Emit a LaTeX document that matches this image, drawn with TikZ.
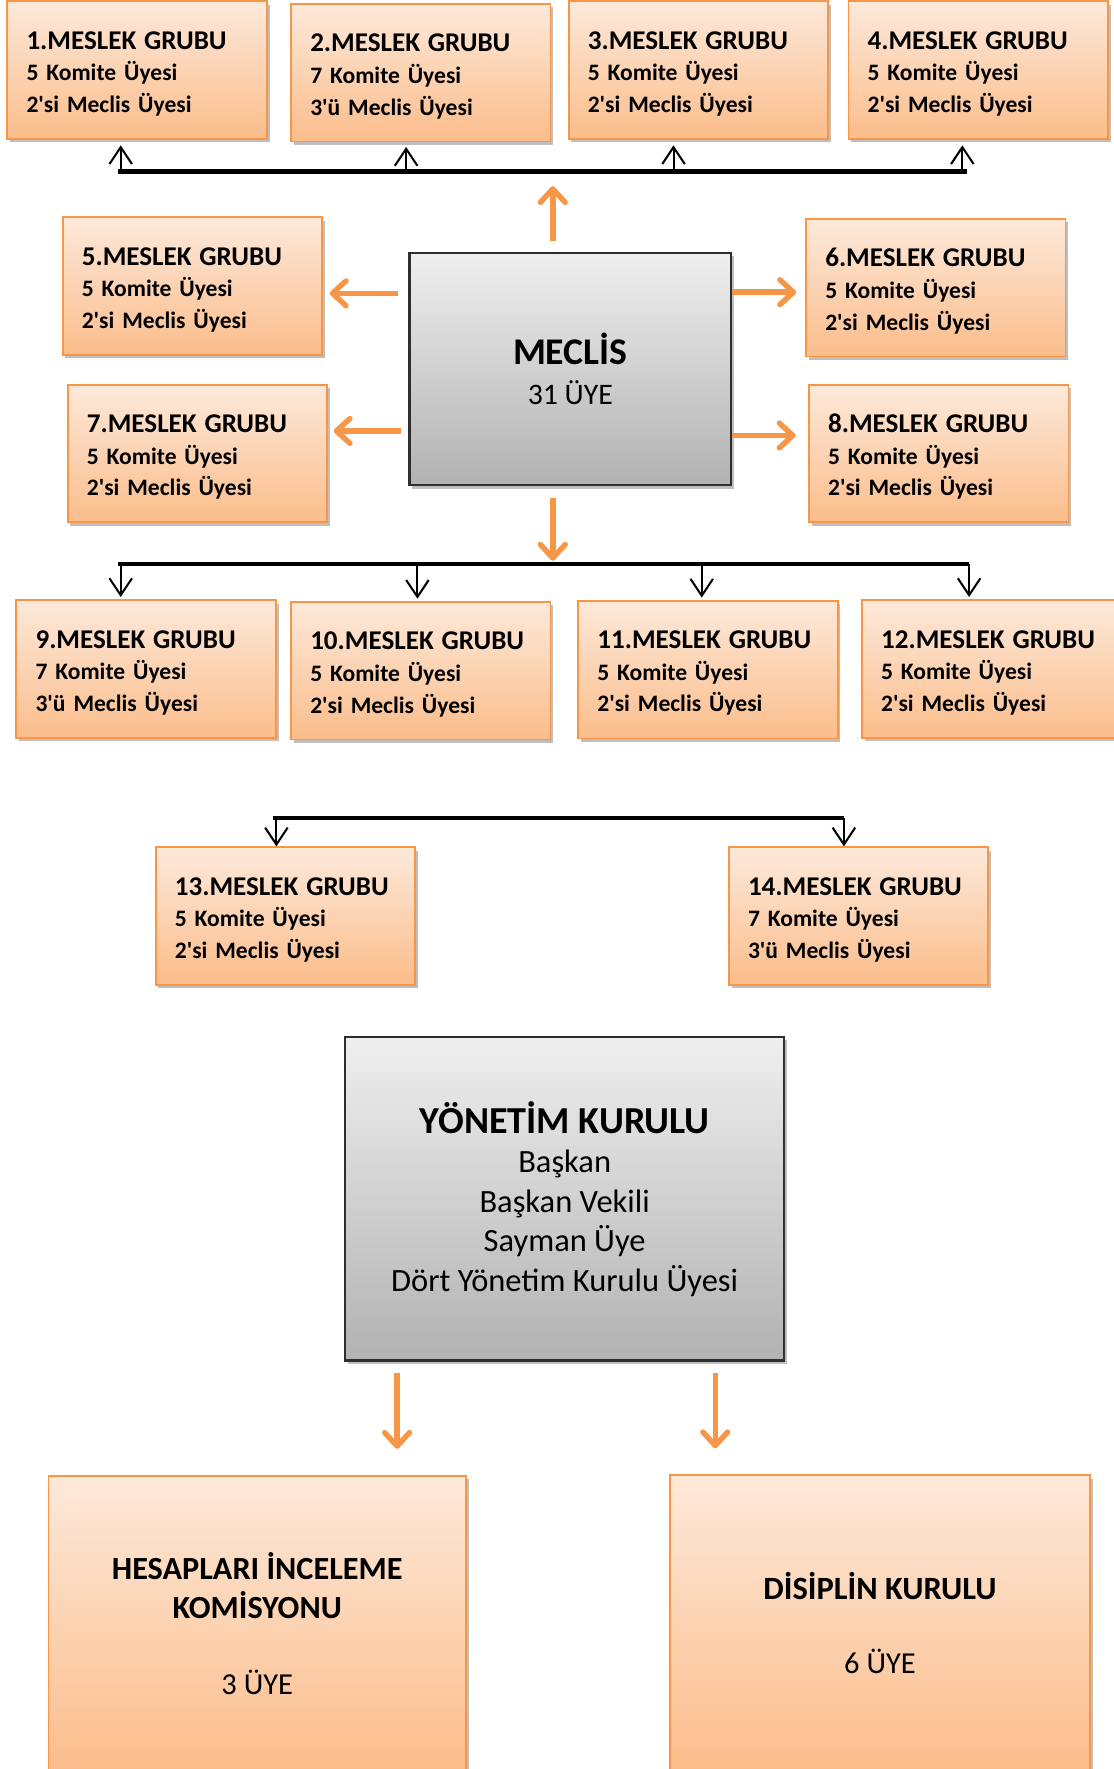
\documentclass[tikz,border=0pt]{standalone}
\usepackage{fontspec}
\setmainfont{Carlito}
\usepackage{tikz}
\usetikzlibrary{arrows.meta,shadows}

\definecolor{turuncu}{HTML}{F79646}
\definecolor{turuncuUst}{HTML}{FDE9DA}
\definecolor{turuncuAlt}{HTML}{FBBD8B}
\definecolor{griUst}{HTML}{EFEFEF}
\definecolor{griAlt}{HTML}{B2B2B2}
\definecolor{griCizgi}{HTML}{2E2E2E}

\tikzset{
  grup/.style={draw=turuncu, line width=0.8pt, top color=turuncuUst, bottom color=turuncuAlt,
    drop shadow={shadow xshift=1.2pt, shadow yshift=-1.5pt, fill=black, opacity=0.25},
    text width=98pt, inner xsep=8.5pt, inner ysep=0pt, minimum height=61pt, align=left,
    font=\fontsize{10.45}{14}\selectfont\bfseries, execute at begin node={\rule{0pt}{11.2pt}}},
  kurul/.style={draw=griCizgi, line width=1pt, top color=griUst, bottom color=griAlt,
    drop shadow={shadow xshift=1.2pt, shadow yshift=-1.5pt, fill=black, opacity=0.25},
    inner sep=0pt, align=center, font=\fontsize{14.4}{17.5}\selectfont},
  komisyon/.style={draw=turuncu, line width=0.8pt, top color=turuncuUst, bottom color=turuncuAlt,
    drop shadow={shadow xshift=1.2pt, shadow yshift=-1.5pt, fill=black, opacity=0.25},
    inner sep=0pt, align=center, font=\fontsize{13.5}{17.5}\selectfont},
  oarrow/.style={draw=turuncu, line width=2.4pt, -{Straight Barb[length=6pt,width=11pt,round]}},
  tick/.style={draw=black, line width=0.9pt, -{Straight Barb[length=7.5pt,width=10pt]}},
  bus/.style={draw=black, line width=2pt},
}

\begin{document}
\begin{tikzpicture}[x=0.5pt,y=0.5pt,yscale=-1,xscale=1]
\useasboundingbox (0,0) rectangle (987,1568);

% Text Node
\draw (121.5,62) node [grup] (g1) {{\fontsize{12}{14}\selectfont 1.MESLEK GRUBU}\\5 Komite Üyesi\\2\textquotesingle si Meclis Üyesi};
% Text Node
\draw (373,64.5) node [grup] (g2) {{\fontsize{12}{14}\selectfont 2.MESLEK GRUBU}\\7 Komite Üyesi\\3\textquotesingle ü Meclis Üyesi};
% Text Node
\draw (619,62) node [grup] (g3) {{\fontsize{12}{14}\selectfont 3.MESLEK GRUBU}\\5 Komite Üyesi\\2\textquotesingle si Meclis Üyesi};
% Text Node
\draw (867,62) node [grup] (g4) {{\fontsize{12}{14}\selectfont 4.MESLEK GRUBU}\\5 Komite Üyesi\\2\textquotesingle si Meclis Üyesi};
% Text Node
\draw (170.5,253.5) node [grup] (g5) {{\fontsize{12}{14}\selectfont 5.MESLEK GRUBU}\\5 Komite Üyesi\\2\textquotesingle si Meclis Üyesi};
% Text Node
\draw (829.5,255) node [grup] (g6) {{\fontsize{12}{14}\selectfont 6.MESLEK GRUBU}\\5 Komite Üyesi\\2\textquotesingle si Meclis Üyesi};
% Text Node
\draw (175,402) node [grup] (g7) {{\fontsize{12}{14}\selectfont 7.MESLEK GRUBU}\\5 Komite Üyesi\\2\textquotesingle si Meclis Üyesi};
% Text Node
\draw (832,402) node [grup] (g8) {{\fontsize{12}{14}\selectfont 8.MESLEK GRUBU}\\5 Komite Üyesi\\2\textquotesingle si Meclis Üyesi};
% Text Node
\draw (505.5,327) node [kurul, minimum width=142.5pt, minimum height=103pt, font=\fontsize{13.2}{17.5}\selectfont] (meclis) {{\fontsize{16.7}{18.5}\selectfont\bfseries MECLİS}\\[0.5pt]31 ÜYE};
% Text Node
\draw (129.5,593) node [grup] (g9) {{\fontsize{12}{14}\selectfont 9.MESLEK GRUBU}\\7 Komite Üyesi\\3\textquotesingle ü Meclis Üyesi};
% Text Node
\draw (373,594.5) node [grup] (g10) {{\fontsize{12}{14}\selectfont 10.MESLEK GRUBU}\\5 Komite Üyesi\\2\textquotesingle si Meclis Üyesi};
% Text Node
\draw (627.5,593.5) node [grup] (g11) {{\fontsize{12}{14}\selectfont 11.MESLEK GRUBU}\\5 Komite Üyesi\\2\textquotesingle si Meclis Üyesi};
% Text Node
\draw (879,593) node [grup] (g12) {{\fontsize{12}{14}\selectfont 12.MESLEK GRUBU}\\5 Komite Üyesi\\2\textquotesingle si Meclis Üyesi};
% Text Node
\draw (253,812) node [grup] (g13) {{\fontsize{12}{14}\selectfont 13.MESLEK GRUBU}\\5 Komite Üyesi\\2\textquotesingle si Meclis Üyesi};
% Text Node
\draw (761,812) node [grup] (g14) {{\fontsize{12}{14}\selectfont 14.MESLEK GRUBU}\\7 Komite Üyesi\\3\textquotesingle ü Meclis Üyesi};
% Text Node
\draw (500.5,1062.5) node [kurul, minimum width=194.5pt, minimum height=143.5pt] (yk) {{\fontsize{16.9}{19}\selectfont\bfseries YÖNETİM KURULU}\\Başkan\\Başkan Vekili\\Sayman Üye\\Dört Yönetim Kurulu Üyesi};
% Text Node
\draw (228,1439) node [komisyon, minimum width=185pt, minimum height=131pt] (hesap) {{\fontsize{14.3}{17.5}\selectfont\bfseries HESAPLARI İNCELEME}\\{\fontsize{14.3}{17.5}\selectfont\bfseries KOMİSYONU}\\[16pt]3 ÜYE};
% Text Node
\draw (780,1438.5) node [komisyon, minimum width=186pt, minimum height=131pt] (disiplin) {{\fontsize{14.4}{17.5}\selectfont\bfseries DİSİPLİN KURULU}\\[15pt]6 ÜYE};

% Connection
\draw [bus] (105,152) -- (857,152) ;
% Connection
\draw [tick, shorten >=2.5pt] (107,152) -- (107,152 |- g1.south) ;
% Connection
\draw [tick, shorten >=2pt] (360,152) -- (360,152 |- g2.south) ;
% Connection
\draw [tick, shorten >=2.5pt] (597,152) -- (597,152 |- g3.south) ;
% Connection
\draw [tick, shorten >=2.5pt] (853,152) -- (853,152 |- g4.south) ;
% Connection
\draw [oarrow, shorten <=4.5pt, shorten >=6.5pt] (meclis.north -| 490,0) -- (490,152) ;
% Connection
\draw [oarrow, shorten <=4.5pt, shorten >=3pt] (meclis.west |- 0,260) -- (g5.east |- 0,260) ;
% Connection
\draw [oarrow, shorten >=4pt] (meclis.east |- 0,259) -- (g6.west |- 0,259) ;
% Connection
\draw [oarrow, shorten <=3.5pt, shorten >=2.5pt] (meclis.west |- 0,382) -- (g7.east |- 0,382) ;
% Connection
\draw [oarrow, shorten >=5.5pt] (meclis.east |- 0,386) -- (g8.west |- 0,386) ;
% Connection
\draw [oarrow, shorten <=5pt, shorten >=1.5pt] (meclis.south -| 490,0) -- (490,500) ;
% Connection
\draw [bus] (105,500) -- (859,500) ;
% Connection
\draw [tick, shorten >=1pt] (107,500) -- (107,500 |- g9.north) ;
% Connection
\draw [tick, shorten >=1pt] (370,500) -- (370,500 |- g10.north) ;
% Connection
\draw [tick, shorten >=1pt] (622,500) -- (622,500 |- g11.north) ;
% Connection
\draw [tick, shorten >=1pt] (859,500) -- (859,500 |- g12.north) ;
% Connection
\draw [bus] (242,725) -- (748,725) ;
% Connection
\draw [tick] (245,725) -- (245,725 |- g13.north) ;
% Connection
\draw [tick] (748,725) -- (748,725 |- g14.north) ;
% Connection
\draw [oarrow, shorten <=5pt, shorten >=11.5pt] (yk.south -| 352,0) -- (352,0 |- hesap.north) ;
% Connection
\draw [oarrow, shorten <=5pt, shorten >=11.5pt] (yk.south -| 634,0) -- (634,0 |- disiplin.north) ;

\end{tikzpicture}
\end{document}
